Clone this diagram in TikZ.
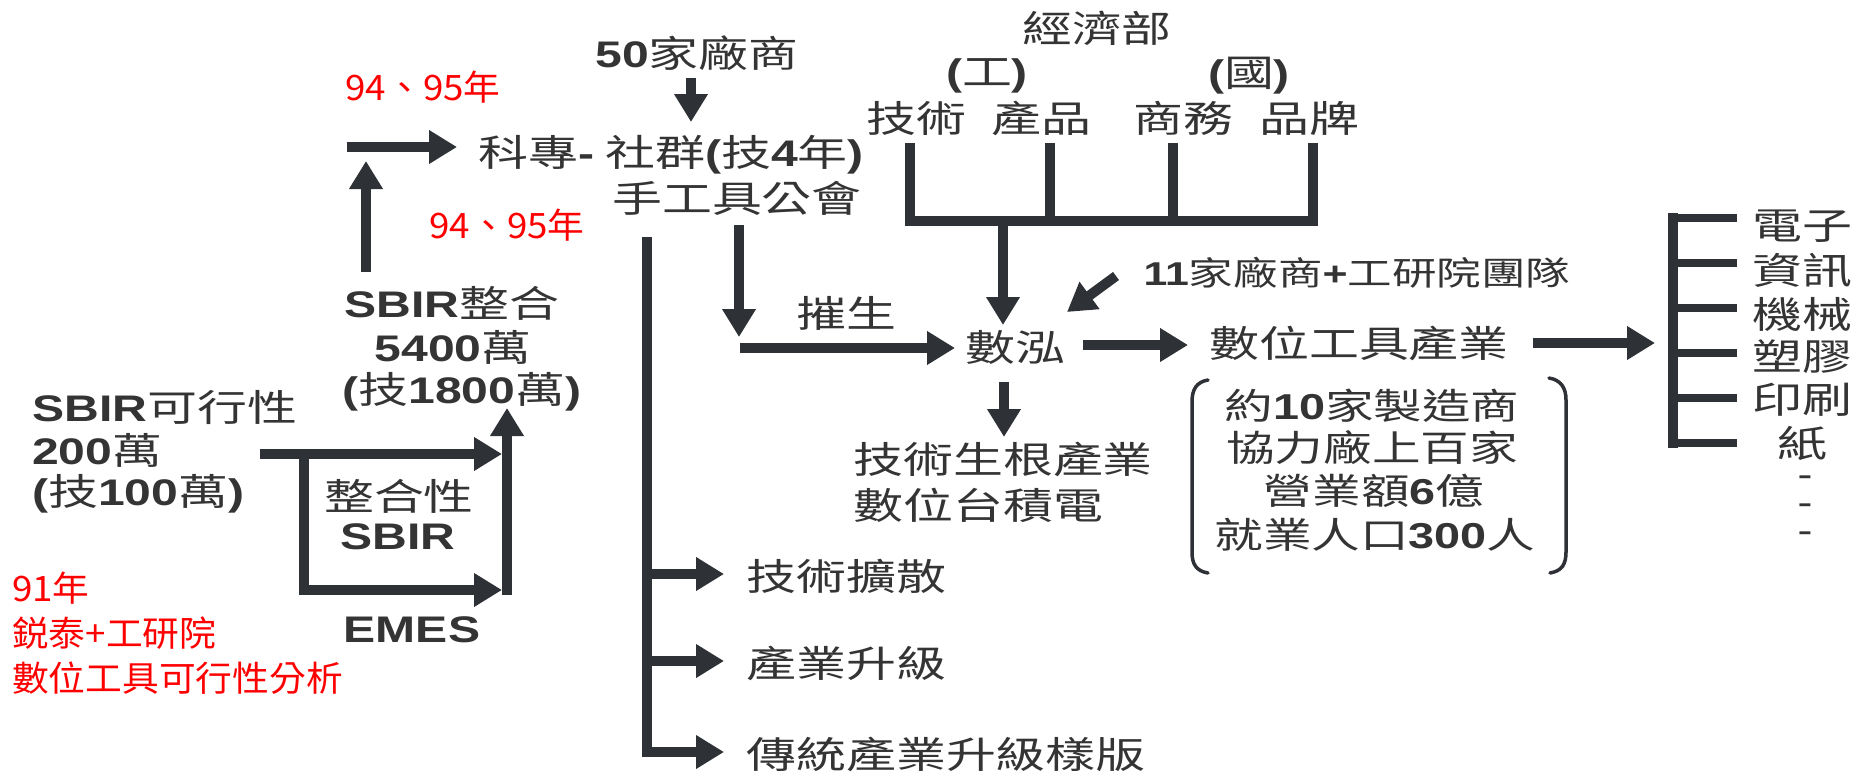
\documentclass[tikz,border=0pt]{standalone}
\usepackage{fontspec}
\usetikzlibrary{arrows.meta}
\newfontfamily\zh[FakeStretch=1.35]{Noto Sans CJK TC}
\newfontfamily\redf[FakeStretch=1.05]{Noto Sans CJK TC}
\newfontfamily\latf[FakeStretch=1.3]{Liberation Sans}
\newfontfamily\dashf[FakeStretch=1.8]{Liberation Sans}
\newcommand{\Lt}[1]{{\latf\bfseries #1}}
\definecolor{ink}{RGB}{46,49,53}
\definecolor{tx}{RGB}{52,52,52}
\definecolor{redc}{RGB}{255,0,0}
\tikzset{
  txt/.style={inner sep=0pt, text=tx, font=\zh\fontsize{37}{44}\selectfont},
  smtxt/.style={inner sep=0pt, text=tx, font=\zh\fontsize{33}{38}\selectfont},
  bxtxt/.style={inner sep=0pt, text=tx, font=\zh\fontsize{36}{42}\selectfont},
  dashtxt/.style={inner sep=0pt, text=tx, font=\dashf\bfseries\fontsize{24}{26}\selectfont},
  redtxt/.style={inner sep=0pt, text=redc, font=\redf\fontsize{35}{42}\selectfont},
  arr/.style={draw=ink, line width=10pt, -{Triangle[width=32pt,length=28pt]}},
  ln/.style={draw=ink, line width=10pt, line join=miter},
  brk/.style={draw=ink, line width=3.5pt, line cap=round}
}
\begin{document}
\begin{tikzpicture}[x=1pt,y=-1pt]
\fill[white] (0,0) rectangle (1862,771);
\useasboundingbox (0,0) rectangle (1862,771);

% ---- red annotations
\node[redtxt] (r1) at (423,87) {94、95年};
\node[redtxt] (r2) at (507,225) {94、95年};
\node[redtxt,anchor=west] (r3) at (12,588) {91年};
\node[redtxt,anchor=west] (r4) at (12,633) {鋭泰+工研院};
\node[redtxt,anchor=west] (r5) at (12,678) {數位工具可行性分析};

% ---- left block
\node[txt,anchor=west] (sf1) at (32,407) {\Lt{SBIR}可行性};
\node[txt,anchor=west] (sf2) at (32,450) {\Lt{200}萬};
\node[txt,anchor=west] (sf3) at (32,494) {\Lt{(}技\Lt{100}萬\Lt{)}};
\node[txt] (si1) at (452,303) {\Lt{SBIR}整合};
\node[txt] (si2) at (453,347) {\Lt{5400}萬};
\node[txt] (si3) at (462,392) {\Lt{(}技\Lt{1800}萬\Lt{)}};
\node[txt] (zh1) at (399,496) {整合性};
\node[txt] (zh2) at (398,537) {\Lt{SBIR}};
\node[txt] (emes) at (412,630) {\Lt{EMES}};

\coordinate (bx1) at (260,454);
\coordinate (bx2) at (502,454);
\coordinate (bx3) at (304,454);
\coordinate (bx4) at (304,590);
\coordinate (bx5) at (502,590);
\coordinate (bx6) at (507,595);
\coordinate (bx7) at (507,408);
\draw[arr] (bx1) -- (bx2);
\draw[arr, line join=miter] (bx3) -- (bx4) -- (bx5);
\draw[arr] (bx6) -- (bx7);

\coordinate (up1) at (366,272);
\coordinate (up2) at (366,161);
\draw[arr] (up1) -- (up2);
\coordinate (rt1) at (347,147);
\coordinate (rt2) at (457,147);
\draw[arr] (rt1) -- (rt2);

% ---- middle block
\node[txt] (f50) at (697,53) {\Lt{50}家廠商};
\node[txt] (kz) at (671,155) {科專\Lt{-} 社群\Lt{(}技\Lt{4}年\Lt{)}};
\node[txt] (sg) at (737,198) {手工具公會};
\coordinate (d50a) at (691,78);
\coordinate (d50b) at (691,122);
\draw[arr] (d50a) -- (d50b);

\coordinate (lv1) at (647,237);
\coordinate (lv2) at (647,757);
\draw[ln] (lv1) -- (lv2);
\node[txt,anchor=west] (l1) at (746,576) {技術擴散};
\node[txt,anchor=west] (l2) at (746,663) {產業升級};
\node[txt,anchor=west] (l3) at (746,754) {傳統產業升級樣版};
\coordinate (b1s) at (647,574); \coordinate (b1e) at (724,574);
\coordinate (b2s) at (647,661); \coordinate (b2e) at (724,661);
\coordinate (b3s) at (642,752); \coordinate (b3e) at (724,752);
\draw[arr] (b1s) -- (b1e);
\draw[arr] (b2s) -- (b2e);
\draw[arr] (b3s) -- (b3e);

\coordinate (dn1) at (739,225);
\coordinate (dn2) at (739,337);
\draw[arr] (dn1) -- (dn2);
\coordinate (hz1) at (740,348);
\coordinate (hz2) at (955,348);
\draw[arr] (hz1) -- (hz2);
\node[txt] (cs) at (846,313) {摧生};
\node[txt] (sh) at (1015,347) {數泓};

% ---- ministry block
\node[txt] (moea) at (1097,28) {經濟部};
\node[txt] (gong) at (987,76) {\Lt{(}工\Lt{)}};
\node[txt] (guo) at (1249,76) {\Lt{(}國\Lt{)}};
\node[txt] (js) at (916,118) {技術};
\node[txt] (cp) at (1041,118) {產品};
\node[txt] (sw) at (1183,118) {商務};
\node[txt] (pp) at (1309,118) {品牌};
\coordinate (m1) at (910,143); \coordinate (m1b) at (910,221);
\coordinate (m4) at (1313,143); \coordinate (m4b) at (1313,221);
\coordinate (m2) at (1050,143); \coordinate (m2b) at (1050,221);
\coordinate (m3) at (1173,143); \coordinate (m3b) at (1173,221);
\draw[ln] (m1) -- (m1b) -- (m4b) -- (m4);
\draw[ln] (m2) -- (m2b);
\draw[ln] (m3) -- (m3b);
\coordinate (md1) at (1003,221);
\coordinate (md2) at (1003,325);
\draw[arr] (md1) -- (md2);

\node[smtxt] (e11) at (1357,273) {\Lt{11}家廠商\Lt{+}工研院團隊};
\coordinate (dg1) at (1116,276);
\coordinate (dg2) at (1067,312);
\draw[arr] (dg1) -- (dg2);

\coordinate (sh1) at (1083,345);
\coordinate (sh2) at (1188,345);
\draw[arr] (sh1) -- (sh2);
\node[txt] (szg) at (1359,343) {數位工具產業};
\coordinate (sz1) at (1533,343);
\coordinate (sz2) at (1655,343);
\draw[arr] (sz1) -- (sz2);

\coordinate (sd1) at (1004,382);
\coordinate (sd2) at (1004,437);
\draw[arr] (sd1) -- (sd2);
\node[txt,anchor=west] (gen1) at (853,459) {技術生根產業};
\node[txt,anchor=west] (gen2) at (853,505) {數位台積電};

% ---- bracket block
\node[bxtxt] (bb1) at (1372,406) {約\Lt{10}家製造商};
\node[bxtxt] (bb2) at (1372,448) {協力廠上百家};
\node[bxtxt] (bb3) at (1374,491) {營業額\Lt{6}億};
\node[bxtxt] (bb4) at (1375,535) {就業人口\Lt{300}人};
\draw[brk] (1208,380) .. controls (1196,382) and (1192,390) .. (1192,402) -- (1192,552) .. controls (1192,564) and (1196,571) .. (1208,573);
\draw[brk] (1549,378) .. controls (1561,380) and (1566,388) .. (1566,400) -- (1566,552) .. controls (1566,564) and (1562,571) .. (1550,573);

% ---- right comb
\coordinate (cv1) at (1673,213);
\coordinate (cv2) at (1673,448);
\draw[ln] (cv1) -- (cv2);
\foreach \yy in {218,263,308,353,398,443} {
  \draw[draw=ink, line width=8pt] (1673,\yy) -- (1737,\yy);
}
\node[txt] (c1) at (1802,226) {電子};
\node[txt] (c2) at (1802,270) {資訊};
\node[txt] (c3) at (1802,314) {機械};
\node[txt] (c4) at (1802,357) {塑膠};
\node[txt] (c5) at (1802,400) {印刷};
\node[txt] (c6) at (1802,443) {紙};
\node[dashtxt] (c7) at (1805,480) {-};
\node[dashtxt] (c8) at (1805,508) {-};
\node[dashtxt] (c9) at (1805,536) {-};
\end{tikzpicture}
\end{document}
